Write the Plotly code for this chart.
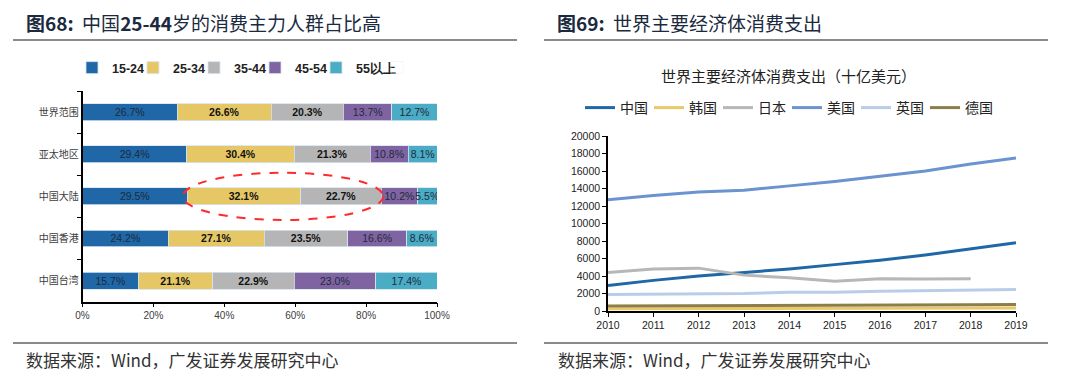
import plotly.graph_objects as go

# ---------------- data: left chart (age structure) ----------------
regions = ["世界范围", "亚太地区", "中国大陆", "中国香港", "中国台湾"]
age_groups = ["15-24", "25-34", "35-44", "45-54", "55以上"]
share_15_24 = [26.7, 29.4, 29.5, 24.2, 15.7]
share_25_34 = [26.6, 30.4, 32.1, 27.1, 21.1]
share_35_44 = [20.3, 21.3, 22.7, 23.5, 22.9]
share_45_54 = [13.7, 10.8, 10.2, 16.6, 23.0]
share_55_up = [12.7, 8.1, 5.5, 8.6, 17.4]
pct_ticks = [0, 20, 40, 60, 80, 100]

# ---------------- data: right chart (consumption, bn USD) ----------------
years = [2010, 2011, 2012, 2013, 2014, 2015, 2016, 2017, 2018, 2019]
china = [2900, 3500, 4000, 4400, 4800, 5300, 5800, 6400, 7100, 7800]
korea = [250, 260, 270, 280, 290, 300, 310, 320, 330, 340]
japan_years = [2010, 2011, 2012, 2013, 2014, 2015, 2016, 2017, 2018]
japan = [4400, 4800, 4900, 4100, 3800, 3400, 3700, 3650, 3700]
usa = [12700, 13200, 13600, 13800, 14300, 14800, 15400, 16000, 16800, 17500]
uk = [1900, 1950, 1980, 2000, 2150, 2150, 2250, 2300, 2400, 2450]
germany = [560, 570, 580, 590, 610, 620, 640, 680, 710, 740]
y_ticks = list(range(0, 20001, 2000))

W, H = 1080, 389
def px(x):
    return x / W
def py(y):
    return 1 - y / H

bar_colors = ["#1f67a6", "#e6c765", "#b5b5b5", "#8064a2", "#4bacc6"]
bar_series = [share_15_24, share_25_34, share_35_44, share_45_54, share_55_up]
bold_flags = [False, True, True, False, False]

fig = go.Figure()
for name, vals, col, bold in zip(age_groups, bar_series, bar_colors, bold_flags):
    texts = [("<b>%.1f%%</b>" % v) if bold else ("%.1f%%" % v) for v in vals]
    fig.add_trace(go.Bar(
        y=regions, x=vals, name=name, orientation="h",
        marker=dict(color=col, line=dict(color="#d6e4f0", width=0.8)),
        text=texts, textposition="inside", insidetextanchor="middle",
        textangle=0, constraintext="none",
        textfont=dict(family="Liberation Sans, Arial", size=10.5,
                      color="#111111" if bold else "#1c2b3c"),
        xaxis="x", yaxis="y", legend="legend",
        hoverinfo="skip",
    ))
# invisible spacer entry so the last legend label is not clipped
fig.add_trace(go.Bar(y=[None], x=[None], name=" ", orientation="h",
                     marker=dict(color="rgba(0,0,0,0)"), xaxis="x", yaxis="y",
                     legend="legend", hoverinfo="skip"))

line_specs = [
    ("中国", years, china, "#1f67a6"),
    ("韩国", years, korea, "#e8c96a"),
    ("日本", japan_years, japan, "#b7b7b7"),
    ("美国", years, usa, "#6a93d0"),
    ("英国", years, uk, "#b9cde9"),
    ("德国", years, germany, "#8c7d4a"),
]
for name, xs, ys, col in line_specs:
    fig.add_trace(go.Scatter(
        x=xs, y=ys, name=name, mode="lines",
        line=dict(color=col, width=3),
        xaxis="x2", yaxis="y2", legend="legend2",
        hoverinfo="skip",
    ))

# ellipse around the 25-44 segments of 中国大陆
idx = regions.index("中国大陆")
x_start = share_15_24[idx]
x_end = share_15_24[idx] + share_25_34[idx] + share_35_44[idx]

shapes = [
    dict(type="circle", xref="x", yref="y",
         x0=x_start - 1.2, x1=x_end + 0.5, y0=idx - 0.56, y1=idx + 0.56,
         line=dict(color="#ff2a2a", width=2, dash="dash")),
    dict(type="line", xref="paper", yref="paper", x0=px(13), x1=px(517), y0=py(40), y1=py(40),
         line=dict(color="#8a8a8a", width=2)),
    dict(type="line", xref="paper", yref="paper", x0=px(544), x1=px(1048), y0=py(40), y1=py(40),
         line=dict(color="#8a8a8a", width=2)),
    dict(type="line", xref="paper", yref="paper", x0=px(13), x1=px(517), y0=py(343), y1=py(343),
         line=dict(color="#8a8a8a", width=2)),
    dict(type="line", xref="paper", yref="paper", x0=px(544), x1=px(1048), y0=py(343), y1=py(343),
         line=dict(color="#8a8a8a", width=2)),
]

cjk = "Noto Sans CJK SC"
annotations = [
    dict(text="<b>图68:</b>  中国<b>25-44</b>岁的消费主力人群占比高", x=px(24), y=py(22),
         xref="paper", yref="paper", xanchor="left", yanchor="middle", showarrow=False,
         font=dict(family=cjk, size=19, color="#1b2a3e")),
    dict(text="<b>图69:</b>  世界主要经济体消费支出", x=px(555), y=py(22),
         xref="paper", yref="paper", xanchor="left", yanchor="middle", showarrow=False,
         font=dict(family=cjk, size=19, color="#1b2a3e")),
    dict(text="世界主要经济体消费支出（十亿美元）", x=px(788), y=py(75),
         xref="paper", yref="paper", xanchor="center", yanchor="middle", showarrow=False,
         font=dict(family=cjk, size=15, color="#222222")),
    dict(text="数据来源：Wind，广发证券发展研究中心", x=px(24), y=py(359),
         xref="paper", yref="paper", xanchor="left", yanchor="middle", showarrow=False,
         font=dict(family=cjk, size=17, color="#333333")),
    dict(text="数据来源：Wind，广发证券发展研究中心", x=px(556), y=py(359),
         xref="paper", yref="paper", xanchor="left", yanchor="middle", showarrow=False,
         font=dict(family=cjk, size=17, color="#333333")),
]

fig.update_layout(
    width=W, height=H, autosize=False,
    margin=dict(l=0, r=0, t=0, b=0, autoexpand=False),
    paper_bgcolor="white", plot_bgcolor="white",
    barmode="stack", bargap=0.6,
    showlegend=True,
    legend=dict(orientation="h", x=px(72), y=py(68), xanchor="left", yanchor="middle",
                font=dict(family="Liberation Sans, Arial", size=12.5, color="#222222", weight="bold"),
                bgcolor="rgba(0,0,0,0)", entrywidth=16, entrywidthmode="pixels",
                itemclick=False, itemdoubleclick=False, traceorder="normal"),
    legend2=dict(orientation="h", x=px(580), y=py(108), xanchor="left", yanchor="middle",
                 font=dict(family=cjk, size=14, color="#222222"),
                 bgcolor="rgba(0,0,0,0)", entrywidth=24, entrywidthmode="pixels",
                 itemclick=False, itemdoubleclick=False, traceorder="normal"),
    xaxis=dict(domain=[px(82.5), px(437)], range=[0, 100], anchor="y",
               tickvals=pct_ticks, ticktext=["%d%%" % v for v in pct_ticks],
               showgrid=False, zeroline=False, showline=True, linecolor="#000000", linewidth=1.5,
               ticks="outside", ticklen=4, tickcolor="#000000",
               tickfont=dict(family="Liberation Sans, Arial", size=10, color="#404040")),
    yaxis=dict(domain=[py(301.7), py(91)], anchor="x", type="category",
               autorange="reversed", categoryorder="array", categoryarray=regions,
               showgrid=False, zeroline=False, showline=True, linecolor="#000000", linewidth=1.5,
               ticks="outside", ticklen=4, tickcolor="#000000", tickson="boundaries",
               tickfont=dict(family=cjk, size=10, color="#404040")),
    xaxis2=dict(domain=[px(608), px(1016)], range=[2010, 2019], anchor="y2",
                tickvals=years, showgrid=False, zeroline=False,
                showline=True, linecolor="#000000", linewidth=1.5,
                ticks="outside", ticklen=4, tickcolor="#000000",
                tickfont=dict(family="Liberation Sans, Arial", size=10.5, color="#222222")),
    yaxis2=dict(domain=[py(311), py(136)], range=[0, 20000], anchor="x2",
                tickvals=y_ticks, tickformat="d", showgrid=False, zeroline=False,
                showline=True, linecolor="#000000", linewidth=1.5,
                ticks="outside", ticklen=4, tickcolor="#000000",
                tickfont=dict(family="Liberation Sans, Arial", size=10.5, color="#222222")),
    shapes=shapes, annotations=annotations,
)

fig.write_html("out.html", config={"displayModeBar": False},
               post_script="document.body.style.margin='0';")
